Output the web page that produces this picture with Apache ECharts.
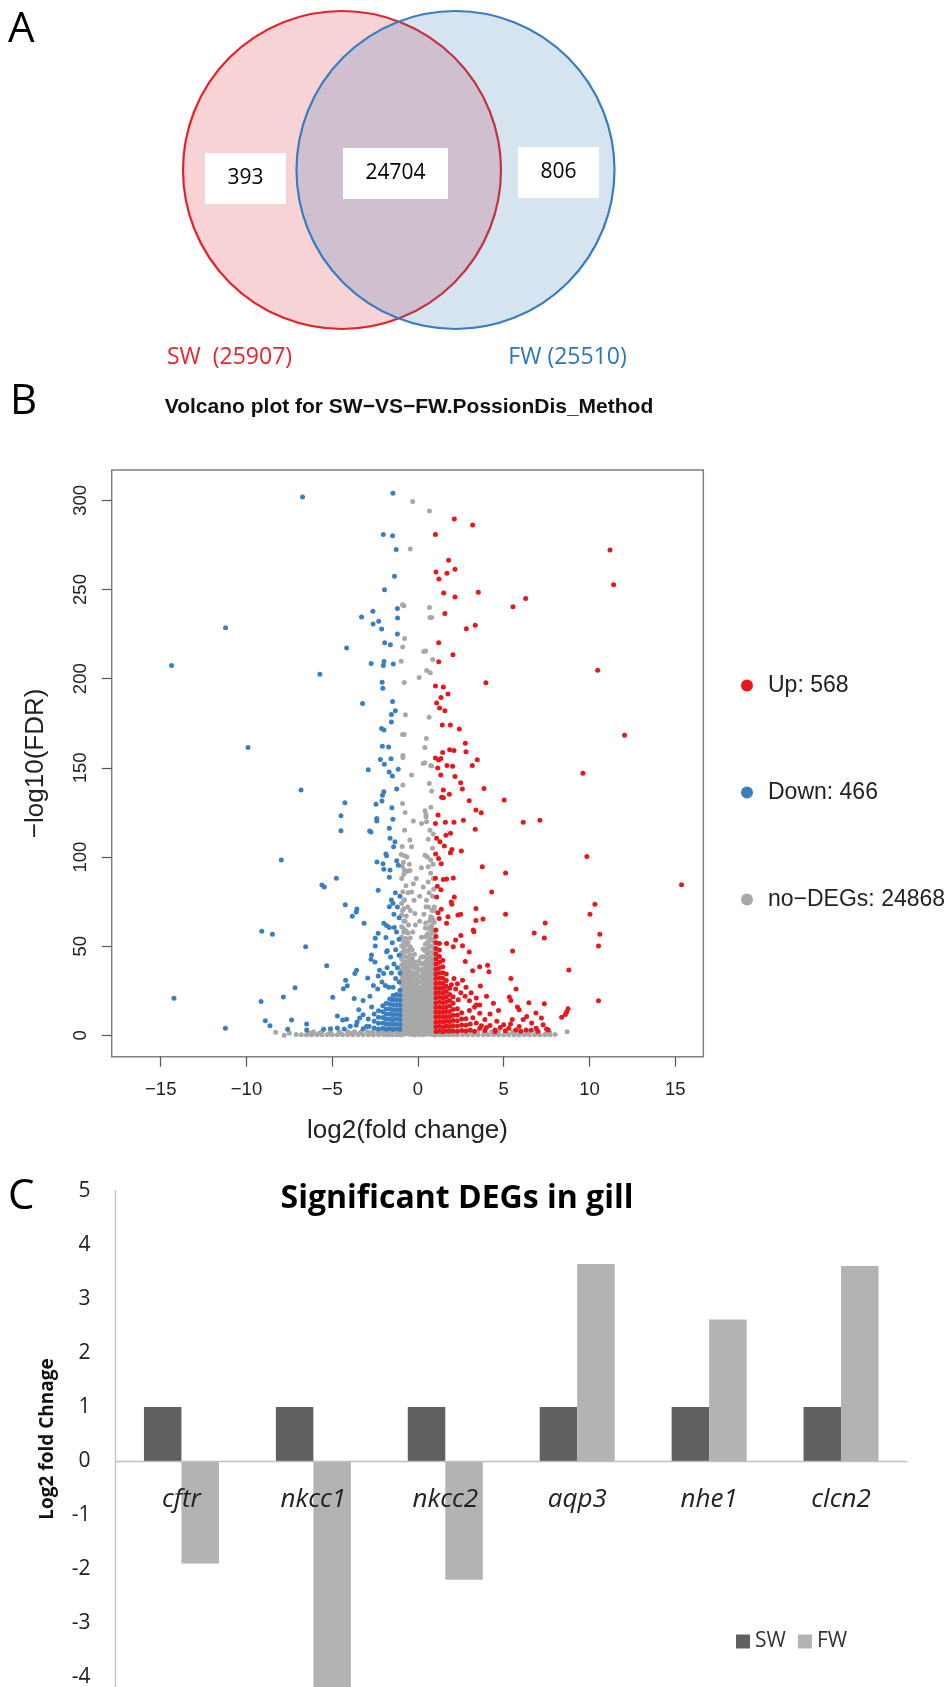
<!DOCTYPE html>
<html><head><meta charset="utf-8">
<script src="https://cdn.jsdelivr.net/npm/echarts@6/dist/echarts.min.js"></script>
<style>html,body{margin:0;padding:0;background:#fff}#c{width:945px;height:1687px}</style>
</head><body><div id="c"></div>
<script>
// ================= Panel A: Venn =================
const vennSets = ['SW', 'FW'];
const vennTotals = [25907, 25510];
const vennRegions = [393, 24704, 806]; // SW only, shared, FW only

// ================= Panel B: volcano =================
const volcanoTitle = 'Volcano plot for SW\u2212VS\u2212FW.PossionDis_Method';
const volcanoGroups = ['Up', 'Down', 'no\u2212DEGs'];
const volcanoCounts = [568, 466, 24868];
const volcanoXTicks = [-15, -10, -5, 0, 5, 10, 15];
const volcanoYTicks = [0, 50, 100, 150, 200, 250, 300];

const upSparse = [[2.12,289.5],[3.19,286.2],[1.02,280.9],[11.2,272.1],[1.79,266.4],[2.16,261.3],[1.05,259.8],[1.69,259.1],[1.22,255.9],[11.41,252.7],[1.50,248.0],[2.16,245.8],[3.52,248.4],[6.28,244.9],[5.54,240.4],[1.57,236.6],[3.34,229.9],[2.82,228.0],[1.21,220.2],[2.04,213.5],[1.21,209.5],[10.48,204.7],[3.96,197.8],[1.02,195.9],[1.48,195.3],[1.75,191.4],[1.34,189.4],[1.09,186.4],[1.26,183.6],[1.57,182.0],[1.42,174.0],[1.89,174.0],[2.41,171.8],[12.05,168.3],[2.76,163.8],[2.80,159.1],[1.85,160.2],[2.10,159.8],[1.44,158.7],[1.02,155.5],[1.21,154.4],[1.34,155.3],[1.69,151.4],[2.02,150.9],[1.15,149.9],[3.17,151.4],[3.46,154.6],
[9.62,147.0],[1.33,146.0],[2.16,145.2],[2.49,141.7],[2.59,138.2],[3.85,138.5],[1.48,137.6],[1.38,133.5],[1.48,133.3],[1.83,135.2],[2.99,131.6],[5.03,132.0],[3.38,126.4],[3.69,124.9],[1.17,123.6],[1.02,118.9],[1.6,119.5],[2.1,119.6],[2.65,120.6],[6.14,119.5],[7.11,120.6],[3.34,115.6],[1.63,112.2],[1.9,113.3],[1.09,110.5],[1.28,108.6],[1.54,106.2],[1.98,104.3],[1.89,102.4],[2.53,103.4],[9.85,100.4],[1.03,101.7],[1.2,99.2],[1.36,96.3],[3.75,94.6],[5.11,91.1],[1.02,88.1],[1.48,87.5],[1.67,87.7],[2.06,88.3],[15.37,84.5],[1.13,83.6],[1.09,77.6],[1.34,81.7],[4.3,80.4],[2.12,77.6],[1.94,74.8],[1.98,73.5],[10.32,73.5],[3.38,71.2],[1.36,70.7],[1.17,68.8],[1.24,65.6],[2.33,67.5],[2.49,68.0],[1.75,66.6],[1.67,62.9],[5.11,67.9],[10.03,67.9],[3.38,64.4],[3.79,65.3],[7.42,63.1],[3.23,59.1],[3.26,58.2],[6.78,57.4],[10.61,56.8],[7.37,54.6],[10.53,50.1],[2.5,56.0],[2.2,53.5],[2.6,50.3],[2.06,49.8],[1.67,51.6],[5.52,47.4],[2.99,46.8],[2.76,41.5],[3.6,38.5],[4.06,39.3],[4.14,35.7],[3.19,36.3],[8.8,36.7],[5.42,32.0],[5.72,26.0],[3.64,27.8],[10.53,19.5],[5.33,21.6],[5.42,19.6],[6.47,18.4],[7.37,17.8],[3.4,17.1],[3.6,17.1],[5.8,16.0],[5.9,14.4],[8.67,13.2],[8.38,10.2],[7.2,9.8],[6.88,12.6],[6.34,10.7],[6.14,8.9],[6.63,7.0],[8.75,15.0],[8.6,11.8],
[2.1,32],[2.3,29],[2.6,31],[2.8,27],[2.2,26],[1.95,28.5],[2.5,24],[3.1,24],[2.75,22],[3.4,21],[3.0,19.5],[2.35,20],[4.0,22],[4.4,18],[4.7,14],[4.2,12],[3.9,9],[4.6,8],[5.0,6],[5.5,9],[5.3,4],[5.9,5],[6.3,3],[6.9,4],[7.3,6],[7.6,3],[4.5,3],[4.0,4.5],[3.7,5.5],[3.4,7],[3.2,10],[3.6,12.5],[3.0,14],[3.3,16],
[3.3,2.4],[3.6,4.0],[3.9,2.8],[4.2,5.6],[4.5,2.2],[4.8,4.5],[5.1,2.6],[5.4,6.5],[5.7,3.0],[6.0,2.3],[6.6,2.9],[7.0,2.4],[7.5,3.6]];
const upCoreX = [1.05, 1.25, 1.45, 1.65, 1.85, 2.05, 2.3, 2.55, 2.8, 3.05];
const upCoreY = [
 [2.2,4.9,7.6,10.3,13.0,15.7,18.4,21.1,23.8,26.5,29.2,31.9,34.6,37.3,40.1,42.9,45.8,48.7,52,55.5,59.1],
 [2.5,5.2,7.9,10.6,13.3,16.0,18.7,21.4,24.1,26.8,29.5,32.3,35.1,38.0,41.0,44.3,47.9,51.6],
 [2.1,4.8,7.5,10.2,12.9,15.6,18.3,21.0,23.7,26.4,29.2,32.1,35.2,38.5,42.2],
 [2.6,5.3,8.0,10.7,13.4,16.1,18.9,21.7,24.6,27.6,30.8,34.4],
 [2.3,5.0,7.8,10.6,13.5,16.5,19.6,22.9,26.5],
 [2.7,5.5,8.4,11.4,14.6,18.0,21.7],
 [2.4,5.3,8.3,11.5,15.0],
 [2.8,5.9,9.2,12.8],
 [2.5,5.7,9.4],
 [3.0,6.5]];

const downSparse = [[-6.73,301.8],[-1.46,304.0],[-2.02,280.9],[-1.48,280.2],[-1.27,272.5],[-1.37,257.4],[-1.95,249.9],[-1.20,239.3],[-2.63,237.8],[-3.29,234.6],[-1.19,234.1],[-2.29,232.2],[-2.62,230.7],[-2.12,227.9],[-1.20,225.1],[-11.22,228.5],[-1.94,220.1],[-1.61,219.1],[-4.16,217.2],[-14.37,207.4],[-2.73,208.5],[-1.98,209.6],[-2.02,207.4],[-1.44,208.3],[-5.72,202.5],[-2.09,198.0],[-2.05,194.7],[-3.23,186.1],[-1.48,187.2],[-1.32,182.0],[-1.55,180.0],[-1.55,175.8],[-2.12,172.1],[-1.98,171.2],[-9.91,161.5],[-2.08,162.2],[-1.71,161.7],[-2.19,154.7],[-1.57,155.1],[-1.96,152.1],[-1.15,149.3],[-2.90,149.0],
[-1.68,147.7],[-1.49,145.4],[-1.24,138.2],[-6.82,137.6],[-1.99,136.6],[-2.07,134.7],[-2.10,131.5],[-4.26,130.5],[-2.45,129.6],[-1.52,127.7],[-4.49,123.2],[-2.40,121.7],[-2.40,120.2],[-1.46,121.2],[-1.67,116.1],[-4.49,114.8],[-2.82,114.6],[-2.74,114.0],[-1.63,110.5],[-1.34,108.6],[-1.42,105.8],[-7.97,98.4],[-1.87,101.7],[-1.83,100.8],[-2.39,97.3],[-2.04,96.2],[-1.24,98.0],[-1.15,95.4],[-1.99,93.2],[-1.63,92.8],[-1.67,88.7],[-4.76,88.1],[-5.60,84.4],[-5.46,83.2],[-2.32,81.4],[-1.32,80.0],[-1.55,76.0],[-1.46,74.1],[-1.67,72.2],[-4.24,73.3],[-3.56,70.9],[-3.60,69.2],[-3.83,66.8],[-3.14,62.9],[-1.99,62.9],[-1.83,61.6],[-1.67,60.5],[-1.38,60.5],[-9.11,58.4],[-8.49,56.8],[-2.32,57.3],[-2.49,54.5],[-1.87,54.9],[-6.55,49.8],[-2.49,50.2],[-1.79,47.5],[-1.83,46.9],[-2.71,45.1],[-2.74,42.7],[-2.51,41.2],[-5.32,39.1],[-2.24,36.6],[-2.00,34.8],[-2.32,33.3],[-3.58,36.6],[-3.68,34.8],[-2.93,32.2],[-4.22,30.9],[-4.12,27.9],[-4.35,26.2],[-7.17,26.8],[-4.97,21.4],[-3.72,20.7],[-14.23,20.8],[-9.15,19.0],[-7.85,21.6],[-3.2,19.6],[-3.45,14.4],[-3.2,11.6],[-2.9,9.2],[-4.7,10.9],[-4.39,8.7],[-4.16,9.1],[-8.9,8.3],[-8.63,5.5],[-7.37,8.7],[-7.6,3.5],[-6.49,6.4],[-6.49,3.0],[-11.23,4.0],[-5.5,3.5],[-5.1,3.8],[-4.7,4.2],[-4.3,3.6],[-3.95,5.2],[-3.6,5.8],[-3.55,7.6],[-3.4,9.8],[-3.0,5.1],
[-1.05,78],[-1.2,72],[-1.1,66],[-1.4,68],[-1.25,58],[-1.1,54],[-1.5,52],[-1.3,48],[-1.1,45],[-1.6,44],[-1.4,40],[-1.2,38],[-1.05,35],[-1.8,38],[-1.55,35],[-1.3,32],[-1.1,30],[-2.1,30],[-1.9,28],[-1.7,27],[-1.45,27],[-2.6,28],[-2.35,26],[-2.8,22],[-2.7,16],[-2.85,5],[-3.2,3.8]];
const downCoreX = [-1.05, -1.25, -1.45, -1.65, -1.85, -2.05, -2.3, -2.55];
const downCoreY = [
 [3.5,6.2,8.9,11.6,14.3,17.0,19.8,22.6,25.4],
 [3.8,6.5,9.2,11.9,14.6,17.3,20.1,23.0],
 [3.4,6.1,8.8,11.5,14.2,16.9,19.7,22.4],
 [3.9,6.6,9.3,12.0,14.8,17.6,20.5],
 [3.5,6.3,9.1,11.9,14.9,18.0],
 [4.0,7.0,10.1,13.3,16.6],
 [3.6,6.8,10.2,13.9],
 [4.2,8.0,12.1]];

const noDegSparse = [[-0.31,299.4],[0.67,294.0],[-0.45,272.7],[0.67,239.9],[0.70,234.3],[0.80,234.3],[0.34,215.2],[0.45,215.6],[0.86,210.7],[0.51,204.6],[0.72,203.3],[0.07,200.7],[0.65,178.4],[0.49,166.5],[0.40,161.5],[0.40,152.9],[0.74,151.4],[-0.90,241.5],[-0.82,240.9],[-0.78,222.5],[-0.89,217.8],[-0.98,209.8],[-0.80,197.9],[-0.73,179.8],[-0.90,168.7],[-0.80,168.7],[-0.88,156.9],[-0.88,155.8],[-0.88,140.4],[-0.78,115.0],[-0.92,106.0],[-0.97,101.5],[-0.78,100.7],[-0.85,97.1],[-0.80,92.9],[-0.82,90.4],[-0.88,80.6],[-0.78,75.9],[-0.37,146.0],[0.31,152.5],[0.80,151.0],[0.66,141.3],[0.80,137.0],[0.41,126.0],[0.47,124.0],[0.47,122.6],[0.50,119.8],[-0.27,120.2],[0.21,118.9],[0.70,115.0],[0.89,113.0],[0.85,105.0],[-0.47,109.6],[-0.37,105.8],[0.41,101.0],[0.74,98.4],[0.60,94.6],[0.74,91.0],[-0.47,92.5],[-0.27,85.0],[-0.37,80.4],[-0.23,75.8],[-0.18,68.4],[0.31,83.2],[0.50,75.8],[0.47,72.2],[0.74,66.6],[-0.95,88],[-0.70,84],[-0.90,70],[-0.60,72],[-0.75,64],[0.90,88],[0.60,86],[0.85,78],[0.95,72],[0.65,80],[-0.50,96],[-0.65,100],[0.20,94],[-0.10,88],[0.10,78],[-0.55,62],[-0.85,60],[0.45,63],[0.7,61],[-0.3,58],[0.2,55],
[-0.62,92],[-0.92,95],[-0.58,80],[-0.82,76],[-0.45,70],[-0.68,67],[0.55,100],[0.88,96],[0.62,72],[0.92,82],[0.35,68],[0.82,70],[-0.15,62],[0.1,64],[-0.9,130],[-0.75,125],[0.75,128],[0.6,110],
[-8.3,1.8],[-7.8,0.1],[-7.5,1.2],[-7.1,0.5],[8.7,2.1],[8.0,0.6],[7.7,1.5]];
const noDegCoreX = [-0.95, -0.7, -0.45, -0.2, 0.05, 0.3, 0.55, 0.8, 0.95];
const noDegCoreY = [
 [0.4,2.8,5.6,8.1,10.9,13.2,15.8,18.4,20.7,23.5,26.1,28.8,31.2,34,36.9,39.5,42.8,46.1,50.3,55.2,61,67.5,74],
 [0.8,3.1,5.4,7.9,10.4,12.9,15.5,18.1,20.4,22.9,25.6,28.1,30.7,33.4,36.2,38.8,41.3,44.2,47.1,50.6,54.3,58.7],
 [0.5,2.6,5.1,7.6,10.2,12.6,15.2,17.7,20.3,22.8,25.2,27.9,30.5,33.1,35.8,38.4,41.7,45.3,49.8,54.6],
 [0.3,2.9,5.5,8.2,10.7,13.4,15.9,18.6,21.1,23.7,26.3,29.1,31.9,34.6,37.8,41.2,45.5],
 [0.6,3.2,5.8,8.4,11.1,13.7,16.2,18.9,21.5,24.2,27.1,30.2,33.5,37.1,41.6],
 [0.4,2.7,5.2,7.8,10.3,12.8,15.4,17.9,20.5,23.1,25.8,28.4,31.2,34.1,37.2,40.5,44.1,48.3],
 [0.7,3.0,5.6,8.0,10.6,13.1,15.7,18.2,20.8,23.4,26.0,28.6,31.3,34.0,36.7,39.4,42.2,45.3,48.6,52.4,56.9],
 [0.5,2.8,5.3,7.7,10.1,12.7,15.3,17.8,20.2,22.7,25.3,27.8,30.4,33.0,35.6,38.3,41.0,43.8,46.7,49.9,53.3,57.2,61.5,66],
 [0.3,3.3,5.9,8.5,11.2,13.9,16.6,19.3,22.1,24.9,27.8,30.7,33.8,37.0,40.4,44.1,48.2,52.6,57.8,63.5,70]];
const noDegFillX = [-0.83, -0.58, -0.33, -0.07, 0.18, 0.43, 0.68, 0.88];
const noDegFillY = [
 [1.6,4.2,6.8,9.5,12.1,14.6,17.2,19.6,22.2,24.8,27.5,30.0,32.6,35.5,38.2,41.0,44.4,48.2,52.7,57.9,64.2,71],
 [1.7,4.3,6.6,9.1,11.6,14.3,16.8,19.3,21.6,24.3,26.9,29.4,32.0,34.8,37.5,40.1,43.7,47.6,52.1,57.5],
 [1.4,3.9,6.4,8.9,11.4,13.9,16.5,19.0,21.7,24.1,26.8,29.6,32.5,35.2,39.4,43.2,48.1],
 [1.9,4.5,7.1,9.6,12.3,14.8,17.4,20.2,22.8,25.6,28.6,31.7,35.3,39.0],
 [1.5,4.0,6.5,9.1,11.7,14.2,16.9,19.4,22.0,24.6,27.3,30.1,33.0,36.4,40.0,43.8],
 [1.8,4.4,6.9,9.4,11.9,14.5,17.0,19.5,22.1,24.7,27.2,29.9,32.7,35.4,38.1,41.0,44.0,47.3,51.2,55.4,60.2],
 [1.6,4.1,6.7,9.3,11.8,14.4,16.9,19.5,22.0,24.5,27.1,29.7,32.3,35.0,37.7,40.6,43.6,46.9,50.5,54.8,59.6,64.3],
 [1.3,4.0,6.6,9.2,11.9,14.5,17.1,19.8,22.5,25.2,27.9,30.6,33.4,36.3,39.3,42.5,46.0,49.8,54.1,59.3,65.0]];
const noDegBandY = [0.4, 1.3, 2.1];
const noDegBandX = [
 [-6.8,-6.5,-6.2,-5.9,-5.6,-5.3,-5.0,-4.7,-4.4,-4.1,-3.8,-3.5,-3.2,-2.9,-2.6,-2.3,-2.0,-1.75,-1.5,-1.25,-1.05,1.05,1.3,1.55,1.8,2.05,2.3,2.6,2.9,3.2,3.5,3.8,4.1,4.4,4.7,5.0,5.3,5.6,5.9,6.2,6.5,6.8,7.1,7.4,7.7],
 [-6.35,-5.75,-5.15,-4.55,-3.95,-3.4,-2.75,-2.15,-1.6,-1.15,1.2,1.7,2.2,2.75,3.35,3.95,4.55,5.15,5.75,6.35,6.95,7.5],
 [-6.1,-5.6,-5.1,-4.6,-4.1,-3.7,-3.3,-2.95,-2.65,-2.35,-2.05,-1.8,-1.5,-1.2,1.1,1.4,1.7,2.0,2.3,2.7,3.1,3.5,3.9,4.3,4.7,5.1,5.5,5.9,6.4,6.9]];

// ================= Panel C: bars =================
const genes = ['cftr', 'nkcc1', 'nkcc2', 'aqp3', 'nhe1', 'clcn2'];
const swValues = [1, 1, 1, 1, 1, 1];
const fwValues = [-1.9, -4.6, -2.2, 3.65, 2.62, 3.61];
const barYTicks = [-4, -3, -2, -1, 0, 1, 2, 3, 4, 5];
const barTitle = 'Significant DEGs in gill';

// ---------- helpers ----------
function fromCols(xs, ys) { const o = []; xs.forEach((x, i) => ys[i].forEach(y => o.push([x, y]))); return o; }
function fromRows(ys, xs) { const o = []; ys.forEach((y, i) => xs[i].forEach(x => o.push([x, y]))); return o; }
const upPoints = upSparse.concat(fromCols(upCoreX, upCoreY));
const downPoints = downSparse.concat(fromCols(downCoreX, downCoreY));
const noDegPoints = noDegSparse.concat(fromCols(noDegCoreX, noDegCoreY), fromCols(noDegFillX, noDegFillY), fromRows(noDegBandY, noDegBandX));
const minus = v => String(v).replace('-', '\u2212');

// ---------- layout (pixel space of the Venn panel) ----------
const vennLayout = {
  centers: [[342, 170], [455.5, 170]], diameter: 318,
  boxes: [[245.5, 178.5, 81, 51], [395.5, 173.5, 105, 51], [558.5, 172.5, 81, 51]],
  labels: [[229.5, 357], [567.5, 357]]
};
const vennFill = ['rgba(227,79,91,0.25)', 'rgba(50,120,180,0.2)'];
const vennStroke = ['#e3232a', '#3a7dbf'];
const vennText = ['#e8232b', '#2e75b6'];

const VF = 'Liberation Sans, Arial, sans-serif';
const CF = 'Open Sans, Noto Sans, sans-serif';
// bar panel: grid runs from y=5 (top) down to the page edge
const barMin = -4.185, barMax = 5;

const chart = echarts.init(document.getElementById('c'));
chart.setOption({
  animation: false,
  backgroundColor: '#fff',
  grid: [
    { left: 0, top: 0, width: 945, height: 380, show: false, outerBoundsMode: 'none' },
    { left: 111.7, top: 470, width: 591.6, height: 586.7, show: true, borderColor: '#808080', borderWidth: 1.5, backgroundColor: 'transparent', outerBoundsMode: 'none' },
    { left: 115.5, top: 1191, width: 791.5, height: 496, show: false, outerBoundsMode: 'none' }
  ],
  xAxis: [
    { gridIndex: 0, type: 'value', min: 0, max: 945, show: false },
    { gridIndex: 1, type: 'value', min: -17.86, max: 16.64, splitLine: { show: false },
      axisLine: { show: false, onZero: false },
      axisTick: { show: true, length: 10, customValues: volcanoXTicks, lineStyle: { color: '#555', width: 1.2 } },
      axisLabel: { customValues: volcanoXTicks, formatter: minus, fontFamily: VF, fontSize: 18.5, color: '#222', margin: 24 },
      name: 'log2(fold change)', nameLocation: 'middle', nameGap: 61,
      nameTextStyle: { fontFamily: VF, fontSize: 26, color: '#222' } },
    { gridIndex: 2, type: 'category', data: genes, position: 'bottom', offset: -226, z: 10,
      axisLine: { show: true, onZero: false, lineStyle: { color: '#bfbfbf', width: 1.3 } },
      axisTick: { show: false },
      axisLabel: { fontFamily: CF, fontStyle: 'italic', fontSize: 26, color: '#222', margin: 26, interval: 0 } }
  ],
  yAxis: [
    { gridIndex: 0, type: 'value', min: 0, max: 380, inverse: true, show: false },
    { gridIndex: 1, type: 'value', min: -11.9, max: 317, splitLine: { show: false },
      axisLine: { show: false, onZero: false },
      axisTick: { show: true, length: 10, customValues: volcanoYTicks, lineStyle: { color: '#555', width: 1.2 } },
      axisLabel: { customValues: volcanoYTicks, rotate: 90, fontFamily: VF, fontSize: 18.5, color: '#222', margin: 21 },
      name: '\u2212log10(FDR)', nameLocation: 'middle', nameGap: 63,
      nameTextStyle: { fontFamily: VF, fontSize: 26, color: '#222' } },
    { gridIndex: 2, type: 'value', min: barMin, max: barMax, splitLine: { show: false },
      axisLine: { show: true, onZero: false, lineStyle: { color: '#bfbfbf', width: 1.3 } },
      axisTick: { show: false },
      axisLabel: { customValues: barYTicks, fontFamily: CF, fontSize: 21, color: '#222', margin: 25 },
      name: 'Log2 fold Chnage', nameLocation: 'middle', nameGap: 58, nameMoveOverlap: false,
      nameTextStyle: { fontFamily: CF, fontSize: 19, fontWeight: 'bold', color: '#111', padding: [0, 0, 0, 0] } }
  ],
  legend: [
    { data: volcanoGroups, orient: 'vertical', left: 736, top: 669, itemWidth: 12, itemHeight: 12, itemGap: 84,
      icon: 'circle', formatter: n => n + ': ' + volcanoCounts[volcanoGroups.indexOf(n)],
      textStyle: { fontFamily: VF, fontSize: 23, color: '#222', padding: [0, 0, 0, 10] }, selectedMode: false },
    { data: ['SW', 'FW'], orient: 'horizontal', left: 731, top: 1626, itemWidth: 14, itemHeight: 14, itemGap: 12,
      icon: 'rect', textStyle: { fontFamily: CF, fontSize: 21, color: '#333', padding: [0, 0, 0, 0] }, selectedMode: false }
  ],
  graphic: [
    { type: 'text', left: 8, top: 9, style: { text: 'A', font: '42px ' + CF, fill: '#000' } },
    { type: 'text', left: 10, top: 381, style: { text: 'B', font: '42px ' + CF, fill: '#000' } },
    { type: 'text', left: 8, top: 1176, style: { text: 'C', font: '42px ' + CF, fill: '#000' } },
    { type: 'text', x: vennLayout.labels[0][0], y: vennLayout.labels[0][1],
      style: { text: vennSets[0] + '  (' + vennTotals[0] + ')', font: '23px ' + CF, fill: vennText[0], textAlign: 'center', textVerticalAlign: 'middle' } },
    { type: 'text', x: vennLayout.labels[1][0], y: vennLayout.labels[1][1],
      style: { text: vennSets[1] + ' (' + vennTotals[1] + ')', font: '23px ' + CF, fill: vennText[1], textAlign: 'center', textVerticalAlign: 'middle' } },
    { type: 'text', x: 409, y: 407,
      style: { text: volcanoTitle, font: 'bold 21px ' + VF, fill: '#111', textAlign: 'center', textVerticalAlign: 'middle' } },
    { type: 'text', x: 457, y: 1199,
      style: { text: barTitle, font: 'bold 32px ' + CF, fill: '#000', textAlign: 'center', textVerticalAlign: 'middle' } }
  ],
  series: [
    { type: 'scatter', xAxisIndex: 0, yAxisIndex: 0, silent: true, z: 1,
      data: vennSets.map((s, i) => ({ name: s, value: vennLayout.centers[i], symbolSize: vennLayout.diameter,
        itemStyle: { color: vennFill[i], borderColor: vennStroke[i], borderWidth: 2.2, opacity: 1 } })) },
    { type: 'scatter', xAxisIndex: 0, yAxisIndex: 0, silent: true, z: 3, symbol: 'rect',
      data: vennRegions.map((n, i) => ({ value: [vennLayout.boxes[i][0], vennLayout.boxes[i][1], n],
        symbolSize: [vennLayout.boxes[i][2], vennLayout.boxes[i][3]] })),
      itemStyle: { color: '#fff', opacity: 1 },
      label: { show: true, position: 'inside', formatter: p => String(p.value[2]), fontFamily: CF, fontSize: 21, color: '#000' } },
    { name: volcanoGroups[2], type: 'scatter', xAxisIndex: 1, yAxisIndex: 1, symbolSize: 5, data: noDegPoints,
      itemStyle: { color: '#a8a8a8', opacity: 1 }, silent: true },
    { name: volcanoGroups[1], type: 'scatter', xAxisIndex: 1, yAxisIndex: 1, symbolSize: 5, data: downPoints,
      itemStyle: { color: '#3a7fbf', opacity: 1 }, silent: true },
    { name: volcanoGroups[0], type: 'scatter', xAxisIndex: 1, yAxisIndex: 1, symbolSize: 5, data: upPoints,
      itemStyle: { color: '#e4191e', opacity: 1 }, silent: true },
    { name: 'SW', type: 'bar', xAxisIndex: 2, yAxisIndex: 2, data: swValues, barWidth: 37.5, barGap: '0%', z: 2,
      itemStyle: { color: '#606060' }, silent: true },
    { name: 'FW', type: 'bar', xAxisIndex: 2, yAxisIndex: 2, data: fwValues, barWidth: 37.5, barGap: '0%', z: 2,
      itemStyle: { color: '#b3b3b3' }, silent: true }
  ]
});
</script></body></html>
